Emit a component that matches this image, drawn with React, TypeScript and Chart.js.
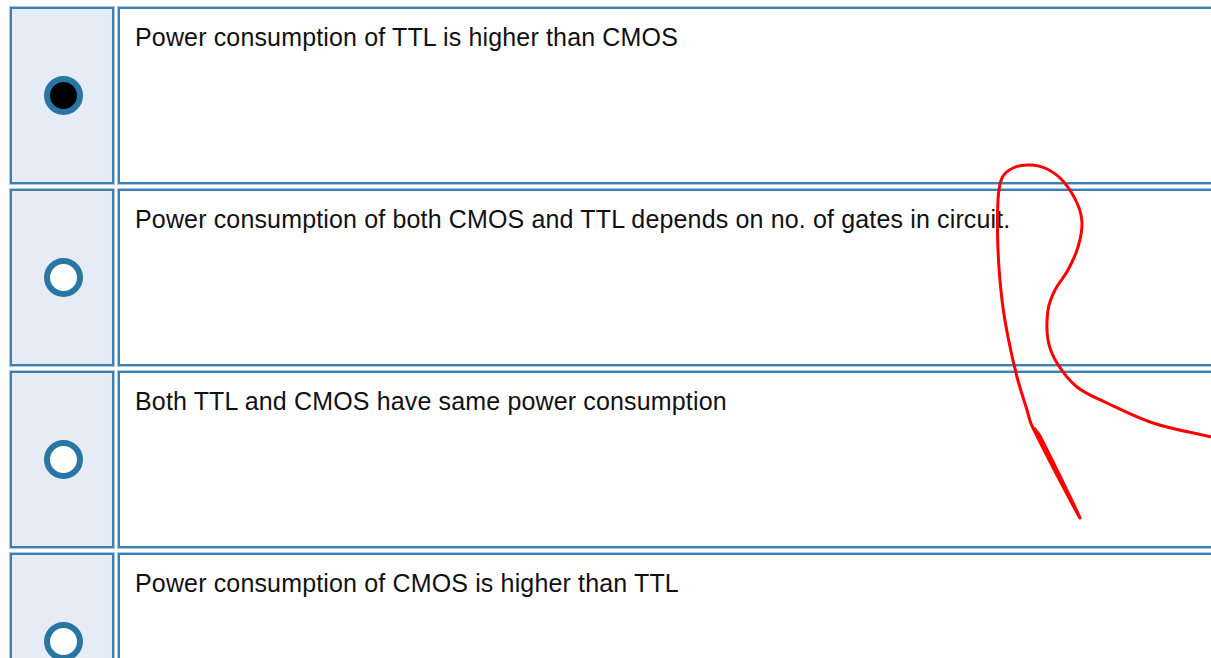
import React, { useEffect, useRef } from "react";
import { Chart, registerables } from "chart.js";

Chart.register(...registerables);

const options: string[] = [
  "Power consumption of TTL is higher than CMOS",
  "Power consumption of both CMOS and TTL depends on no. of gates in circuit.",
  "Both TTL and CMOS have same power consumption",
  "Power consumption of CMOS is higher than TTL",
];
const selectedIndex = 0;

// Hand-drawn red annotation stroke (page pixel coordinates)
const strokeX: number[] = [
  1211, 1153, 1107, 1077, 1057, 1048, 1048, 1055, 1068, 1078, 1082, 1077, 1063,
  1047, 1030, 1013, 1002, 998, 998, 1002, 1008, 1017, 1027, 1032, 1080, 1040, 1034,
];
const strokeY: number[] = [
  437, 423, 403, 387, 363, 340, 310, 290, 270, 247, 223, 203, 181,
  169, 165, 168, 178, 200, 250, 300, 337, 377, 410, 426, 518, 436, 428,
];

const W = 1211;
const H = 658;
const ROW_TOP = 7;
const ROW_PITCH = 182;
const ROW_H = 177;
const BORDER = "2px solid #3d7fb0";
const HALO = "0 0 0 1px #a8c8e2";

export default function App() {
  const canvasRef = useRef<HTMLCanvasElement | null>(null);

  useEffect(() => {
    const prev = document.body.style.margin;
    document.body.style.margin = "0";
    const canvas = canvasRef.current;
    if (!canvas) return;
    const chart = new Chart(canvas, {
      type: "scatter",
      data: {
        datasets: [
          {
            data: strokeX.map((x, i) => ({ x, y: strokeY[i] })),
            showLine: true,
            borderColor: "#ff0000",
            borderWidth: 3,
            pointRadius: 0,
            tension: 0.35,
            fill: false,
          },
        ],
      },
      options: {
        animation: false,
        responsive: false,
        maintainAspectRatio: false,
        layout: { padding: 0 },
        plugins: { legend: { display: false }, tooltip: { enabled: false } },
        events: [],
        scales: {
          x: { type: "linear", min: 0, max: W, display: false },
          y: { type: "linear", min: 0, max: H, reverse: true, display: false },
        },
      },
    });
    return () => {
      chart.destroy();
      document.body.style.margin = prev;
    };
  }, []);

  return (
    <div
      style={{
        position: "fixed",
        left: 0,
        top: 0,
        width: W,
        height: H,
        overflow: "hidden",
        background: "#ffffff",
        fontFamily: "'Liberation Sans', Arial, sans-serif",
      }}
    >
      {options.map((label, i) => {
        const top = ROW_TOP + i * ROW_PITCH;
        const selected = i === selectedIndex;
        return (
          <React.Fragment key={i}>
            <div
              style={{
                position: "absolute",
                left: 10,
                top,
                width: 104,
                height: ROW_H,
                boxSizing: "border-box",
                border: BORDER,
                boxShadow: HALO,
                background: "#e5ecf6",
              }}
            >
              <div
                style={{
                  position: "absolute",
                  left: 32,
                  top: 67,
                  width: 39,
                  height: 39,
                  boxSizing: "border-box",
                  borderRadius: "50%",
                  border: "6px solid #2a76a3",
                  background: selected ? "#000000" : "#ffffff",
                }}
              />
            </div>
            <div
              style={{
                position: "absolute",
                left: 118,
                top,
                width: 1200,
                height: ROW_H,
                boxSizing: "border-box",
                border: BORDER,
                boxShadow: HALO,
                background: "#ffffff",
              }}
            >
              <div
                style={{
                  position: "absolute",
                  left: 15,
                  top: 16,
                  fontSize: 25,
                  lineHeight: "25px",
                  letterSpacing: "0.15px",
                  color: "#111111",
                  whiteSpace: "nowrap",
                }}
              >
                {label}
              </div>
            </div>
          </React.Fragment>
        );
      })}
      <canvas
        ref={canvasRef}
        width={W}
        height={H}
        style={{ position: "absolute", left: 0, top: 0, width: W, height: H }}
      />
    </div>
  );
}
